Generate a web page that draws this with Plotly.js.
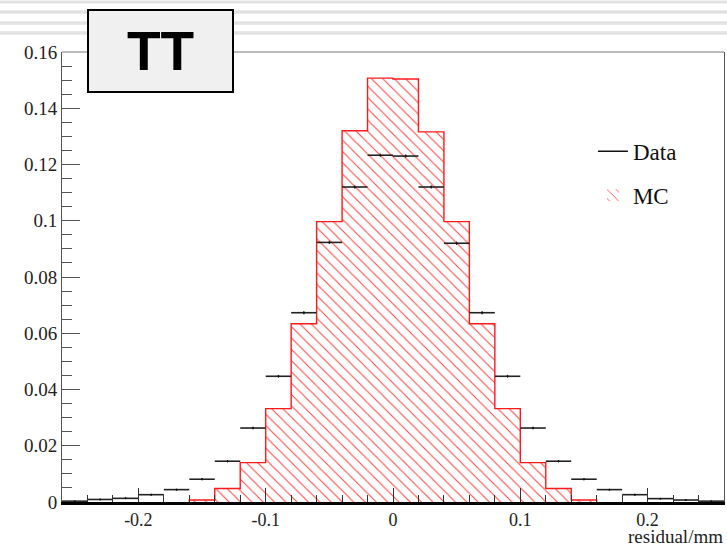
<!DOCTYPE html>
<html><head><meta charset="utf-8">
<script src="https://cdn.plot.ly/plotly-3.0.1.min.js"></script>
<style>html,body{margin:0;padding:0;background:#fff;}#chart{width:727px;height:550px;}</style>
</head><body><div id="chart"></div>
<script>
// bin centres (residual/mm), bin width 0.02
const binCenters = [-0.25,-0.23,-0.21,-0.19,-0.17,-0.15,-0.13,-0.11,-0.09,-0.07,-0.05,-0.03,-0.01,
                     0.01, 0.03, 0.05, 0.07, 0.09, 0.11, 0.13, 0.15, 0.17, 0.19, 0.21, 0.23, 0.25];
const dataValues = [0.0003,0.0009,0.0013,0.0026,0.0044,0.0081,0.0145,0.0263,0.0447,0.0673,0.0923,0.1120,0.1233,
                    0.1230,0.1120,0.0920,0.0673,0.0447,0.0263,0.0145,0.0081,0.0044,0.0026,0.0012,0.0007,0.0003];
const dataErrors = [0.0001,0.0002,0.0002,0.0003,0.0003,0.0004,0.0004,0.0005,0.0005,0.0006,0.0006,0.0006,0.0006,
                    0.0006,0.0006,0.0006,0.0006,0.0005,0.0005,0.0004,0.0004,0.0003,0.0003,0.0002,0.0002,0.0001];
const mcValues   = [0,0,0,0,0,0.0007,0.0048,0.0140,0.0332,0.0634,0.0997,0.1320,0.1507,
                    0.1504,0.1316,0.0997,0.0634,0.0332,0.0140,0.0048,0.0007,0,0,0,0,0];
const xTickVals = [-0.2,-0.1,0,0.1,0.2];
const xTickText = ['-0.2','-0.1','0','0.1','0.2'];
const binWidth = 0.02;

// MC outline as a step line over the non-empty bins
let first = mcValues.findIndex(v => v > 0);
let last = mcValues.length - 1 - [...mcValues].reverse().findIndex(v => v > 0);
const stepX = [], stepY = [];
stepX.push(binCenters[first] - binWidth/2); stepY.push(0);
for (let i = first; i <= last; i++) { stepX.push(binCenters[i] - binWidth/2); stepY.push(mcValues[i]); }
stepX.push(binCenters[last] + binWidth/2); stepY.push(mcValues[last]);
stepX.push(binCenters[last] + binWidth/2); stepY.push(0);

const traces = [
  {type:'bar', x:binCenters, y:mcValues, width:binWidth, name:'MC', legendrank:2, legendgroup:'mc',
   marker:{color:'rgba(255,255,255,0)', line:{width:0},
           pattern:{shape:'\\', fgcolor:'#ff2a2a', bgcolor:'rgba(255,255,255,0)', size:8, solidity:0.14, fillmode:'replace', fgopacity:0.85}},
   hoverinfo:'skip'},
  {type:'scatter', mode:'lines', x:stepX, y:stepY, line:{color:'#ff1a1a', width:1.4, shape:'hv'},
   showlegend:false, hoverinfo:'skip'},
  {type:'scatter', mode:'markers', x:binCenters, y:dataValues, showlegend:false,
   marker:{color:'#111', size:2},
   error_x:{type:'constant', value:binWidth/2, width:0, thickness:1.6, color:'#222'},
   error_y:{type:'data', array:dataErrors, width:0, thickness:1, color:'#222'}},
  {type:'scatter', mode:'lines', x:[null], y:[null], name:'Data', legendrank:1, legendgroup:'data',
   line:{color:'#111', width:1.4}}
];

const layout = {
  width:727, height:550, margin:{l:62, r:3, t:52, b:48},
  paper_bgcolor:'white', plot_bgcolor:'white',
  font:{family:'Liberation Serif', color:'#111'},
  showlegend:true,
  xaxis:{range:[-0.26,0.26], tickmode:'array', tickvals:xTickVals, ticktext:xTickText,
         ticks:'inside', ticklen:14, tickcolor:'#333', tickwidth:1,
         showline:true, linecolor:'#000', linewidth:2.5, mirror:false,
         showgrid:false, zeroline:false, tickfont:{size:18, family:'Liberation Serif', color:'#222'},
         minor:{dtick:0.02, tick0:0, ticks:'inside', ticklen:7, tickcolor:'#333', showgrid:false}},
  yaxis:{range:[0,0.16], tick0:0, dtick:0.02, ticks:'inside', ticklen:18, tickcolor:'#555', tickwidth:1,
         showline:true, linecolor:'#555', linewidth:1, mirror:true,
         showgrid:false, zeroline:false, tickfont:{size:19, family:'Liberation Serif', color:'#222'},
         minor:{dtick:0.005, tick0:0, ticks:'inside', ticklen:10, tickcolor:'#555', showgrid:false}},
  legend:{x:0.802, y:0.827, xanchor:'left', yanchor:'top', bgcolor:'rgba(0,0,0,0)', borderwidth:0,
          font:{size:23, family:'Liberation Serif', color:'#111'}, traceorder:'grouped', tracegroupgap:11},
  shapes:[
    {type:'line', xref:'paper', yref:'paper', x0:0, x1:1, y0:1, y1:1, line:{color:'#777', width:1}},
    {type:'line', xref:'paper', yref:'paper', x0:-0.1, x1:1.01, y0:1.111, y1:1.111, line:{color:'#e2e2e2', width:3}, layer:'below'},
    {type:'line', xref:'paper', yref:'paper', x0:-0.1, x1:1.01, y0:1.0889, y1:1.0889, line:{color:'#e2e2e2', width:3.5}, layer:'below'},
    {type:'line', xref:'paper', yref:'paper', x0:-0.1, x1:1.01, y0:1.0644, y1:1.0644, line:{color:'#e2e2e2', width:3.5}, layer:'below'},
    {type:'line', xref:'paper', yref:'paper', x0:-0.1, x1:1.01, y0:1.0422, y1:1.0422, line:{color:'#e2e2e2', width:3.5}, layer:'below'}
  ],
  annotations:[
    {xref:'paper', yref:'paper', x:1.002, y:-0.1055, xanchor:'right', yanchor:'bottom', showarrow:false,
     text:'residual/mm', font:{family:'Liberation Serif', size:19, color:'#222'}},
    {xref:'paper', yref:'paper', x:0.0378, y:1.0956, xanchor:'left', yanchor:'top', showarrow:false,
     text:'<b>TT</b>', font:{family:'Liberation Sans', size:55, color:'#000'},
     bgcolor:'#f0f0f0', bordercolor:'#000', borderwidth:2, borderpad:0, width:143, height:80, valign:'middle', align:'center'}
  ]
};

Plotly.newPlot('chart', traces, layout, {staticPlot:true, displayModeBar:false});
</script></body></html>
